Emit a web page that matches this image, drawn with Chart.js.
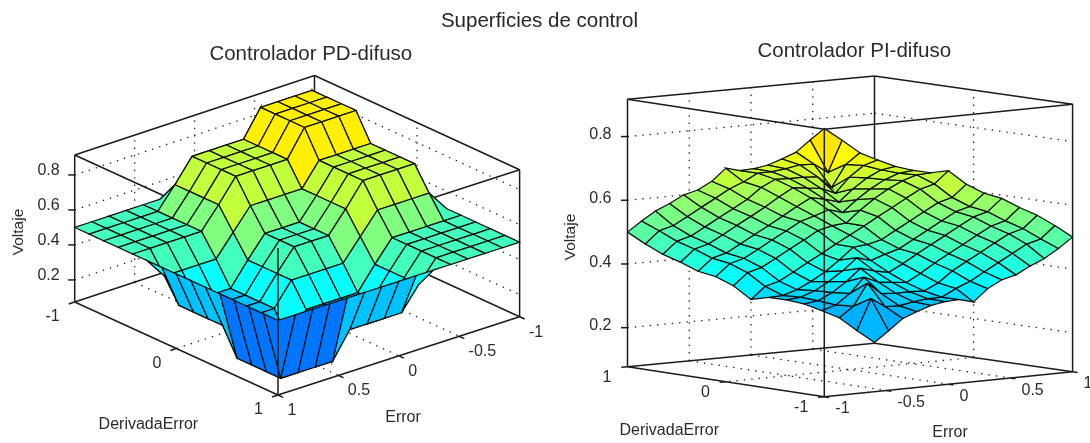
<!DOCTYPE html>
<html>
<head>
<meta charset="utf-8">
<title>Superficies de control</title>
<script src="https://cdn.jsdelivr.net/npm/chart.js@4"></script>
<style>
  html, body { margin: 0; padding: 0; background: #fff; }
  #page { position: relative; width: 1090px; height: 443px; overflow: hidden; }
  canvas { position: absolute; top: 0; filter: blur(0.35px); }
  #left-chart { left: 0; }
  #right-chart { left: 545px; }
  #main-title {
    position: absolute; left: 0; width: 1079px; top: 8px; z-index: 2;
    text-align: center; font: 20.5px "Liberation Sans", Arial, sans-serif; color: #26262e;
  }
</style>
</head>
<body>
<div id="page">
  <canvas id="left-chart" width="545" height="443"></canvas>
  <canvas id="right-chart" width="545" height="443"></canvas>
  <div id="main-title">Superficies de control</div>
</div>
<script>
// Axis ticks
const errorTicks = [-1, -0.5, 0, 0.5, 1];
const derivadaTicks = [-1, 0, 1];
const voltajeTicks = [0.2, 0.4, 0.6, 0.8];

// Surfaces: one row per DerivadaError step (-1 to 1), one column per Error step (-1 to 1)
const pdSurface = [
  [.5, .5, .5, .5, .5, .5, .5, .5, .5, .5, .5, .5, .5, .5, .5],
  [.5, .9, .9, .9, .9, .75, .75, .75, .75, .62, .5, .5, .5, .5, .5],
  [.5, .9, .9, .9, .9, .75, .75, .75, .75, .62, .5, .5, .5, .5, .5],
  [.5, .9, .9, .9, .9, .75, .75, .75, .75, .62, .5, .5, .5, .5, .5],
  [.5, .9, .9, .9, .9, .75, .75, .75, .75, .62, .5, .5, .5, .5, .5],
  [.5, .75, .75, .75, .75, .62, .62, .62, .62, .5, .38, .38, .38, .38, .5],
  [.5, .75, .75, .75, .75, .62, .5, .5, .5, .38, .25, .25, .25, .25, .5],
  [.5, .75, .75, .75, .75, .62, .5, .5, .5, .38, .25, .25, .25, .25, .5],
  [.5, .75, .75, .75, .75, .62, .5, .5, .5, .38, .25, .25, .25, .25, .5],
  [.5, .62, .62, .62, .62, .5, .38, .38, .38, .38, .25, .25, .25, .25, .5],
  [.5, .5, .5, .5, .5, .38, .25, .25, .25, .25, .1, .1, .1, .1, .5],
  [.5, .5, .5, .5, .5, .38, .25, .25, .25, .25, .1, .1, .1, .1, .5],
  [.5, .5, .5, .5, .5, .38, .25, .25, .25, .25, .1, .1, .1, .1, .5],
  [.5, .5, .5, .5, .5, .38, .25, .25, .25, .25, .1, .1, .1, .1, .5],
  [.5, .5, .5, .5, .5, .5, .5, .5, .5, .5, .5, .5, .5, .5, .5]
];

const piSurface = [
  [.92, .877, .832, .804, .778, .76, .747, .748, .70, .666, .644, .61, .58, .542, .50],
  [.877, .77, .789, .78, .761, .745, .734, .70, .652, .618, .596, .562, .532, .494, .458],
  [.832, .789, .71, .737, .729, .718, .709, .677, .629, .595, .573, .539, .509, .471, .42],
  [.804, .78, .737, .68, .688, .683, .677, .642, .594, .56, .538, .504, .474, .436, .39],
  [.778, .761, .729, .688, .64, .642, .64, .606, .558, .524, .502, .468, .438, .40, .356],
  [.76, .745, .718, .683, .642, .595, .597, .571, .523, .489, .467, .433, .403, .365, .334],
  [.747, .734, .709, .677, .64, .597, .55, .535, .487, .453, .431, .397, .367, .329, .30],
  [.748, .70, .677, .642, .606, .571, .535, .50, .465, .429, .394, .358, .323, .30, .252],
  [.70, .671, .633, .603, .569, .547, .513, .465, .45, .403, .36, .323, .291, .266, .253],
  [.666, .635, .597, .567, .533, .511, .477, .429, .403, .405, .358, .317, .282, .255, .24],
  [.644, .60, .562, .532, .498, .476, .442, .394, .36, .358, .36, .312, .271, .239, .222],
  [.61, .564, .526, .496, .462, .44, .406, .358, .323, .317, .312, .32, .263, .22, .196],
  [.58, .529, .491, .461, .427, .405, .371, .323, .291, .282, .271, .263, .29, .211, .168],
  [.542, .506, .468, .438, .404, .382, .348, .30, .266, .255, .239, .22, .211, .23, .123],
  [.50, .458, .42, .39, .356, .334, .30, .252, .253, .24, .222, .196, .168, .123, .08]
];

// Camera of each panel: where the floor corners land, the z range and which corner is nearest
const pdView = {
  canvas: 'left-chart', title: 'Controlador PD-difuso', surface: pdSurface,
  xRange: [0, 545],
  corners: { mm: [314.5, 222.5], pm: [74.7, 302], mp: [519.6, 316.7], pp: [278, 395] },
  zMin: 0.074, zMax: 0.914, zScale: 175,
  near: [1, 1], // Error, DerivadaError of the corner facing the viewer
  backE: -1, backD: -1,
  titlePos: [310.8, 54],
  voltajeLabel: [19, 232],
  derivadaLabel: [148.4, 425],
  errorLabel: [403, 418],
  zLabelOffset: [-15, -4],
  errorLabelOffset: [9.4, 15.5],
  derivadaLabelOffset: [-15, 15],
  zAxisCorner: [1, -1],
  errorAxisD: 1,
  derivadaAxisE: 1
};

const piView = {
  canvas: 'right-chart', title: 'Controlador PI-difuso', surface: piSurface,
  xRange: [545, 1090],
  corners: { mm: [824.3, 396.7], pm: [1072.6, 371.7], mp: [627.5, 366.7], pp: [874.5, 343.3] },
  zMin: 0.0775, zMax: 0.917, zScale: 318.5,
  near: [-1, -1],
  backE: 1, backD: 1,
  titlePos: [854.3, 51.7],
  voltajeLabel: [570.4, 237],
  derivadaLabel: [669.3, 430.7],
  errorLabel: [950, 432.3],
  zLabelOffset: [-16, -1.7],
  errorLabelOffset: [11, 12.3],
  derivadaLabelOffset: [-16, 11.2],
  zAxisCorner: [-1, 1],
  errorAxisD: -1,
  derivadaAxisE: -1
};

const FONT = '"Liberation Sans", Arial, sans-serif';
const TEXT_COLOR = '#2b2b2b';
const TICK_SIZE = 0.05;
const Z_TICK_PIXELS = 6.5;

// Floor position by bilinear blend of the corners, then lift by z
function project(view, e, d, z) {
  const u = (e + 1) / 2, v = (d + 1) / 2;
  const c = view.corners;
  const blend = k => (1 - u) * (1 - v) * c.mm[k] + u * (1 - v) * c.pm[k] + (1 - u) * v * c.mp[k] + u * v * c.pp[k];
  return { x: blend(0), y: blend(1) - (z - view.zMin) * view.zScale };
}

// MATLAB jet, shifted to the colour limits used by the figure
function surfaceColor(z) {
  const t = 0.19 + 0.5 * z;
  const channel = c => Math.round(255 * Math.max(0, Math.min(1, 1.5 - Math.abs(4 * t - c))));
  return `rgb(${channel(3)},${channel(2)},${channel(1)})`;
}

function lineSet(data, color, width, dash) {
  return {
    data, showLine: true, fill: false, pointRadius: 0, pointHoverRadius: 0,
    borderColor: color, borderWidth: width, borderDash: dash || [], clip: false
  };
}

function surfaceSets(view) {
  const rows = view.surface;
  const last = rows.length - 1;
  const faces = [];
  for (let b = 0; b < last; b++) {
    for (let a = 0; a < last; a++) {
      const point = (p, q) => project(view, -1 + 2 * p / last, -1 + 2 * q / last, rows[q][p]);
      faces.push({
        depth: view.near[0] * a + view.near[1] * b,
        set: {
          data: [point(a, b), point(a + 1, b), point(a + 1, b + 1), point(a, b + 1), point(a, b)],
          showLine: true, fill: 'shape', pointRadius: 0, pointHoverRadius: 0, clip: false,
          backgroundColor: surfaceColor(rows[b][a]), borderColor: '#111', borderWidth: 1.25
        }
      });
    }
  }
  // Chart.js paints the first dataset last, so the nearest face goes first
  faces.sort((p, q) => q.depth - p.depth);
  return faces.map(f => f.set);
}

function boxSets(view) {
  const { zMin, zMax, backE, backD } = view;
  const sets = [];
  const edge = (p, q) => sets.push(lineSet([p, q], '#1c1c1c', 1.5));
  const cornerList = [[-1, -1], [1, -1], [1, 1], [-1, 1]];
  cornerList.forEach(([e, d], i) => {
    const [e2, d2] = cornerList[(i + 1) % 4];
    edge(project(view, e, d, zMin), project(view, e2, d2, zMin));
    edge(project(view, e, d, zMax), project(view, e2, d2, zMax));
    if (!(e === view.near[0] && d === view.near[1])) {
      edge(project(view, e, d, zMin), project(view, e, d, zMax));
    }
  });

  // Dotted grid on the two back walls and the floor
  const dotted = (p, q) => sets.push(lineSet([p, q], '#222', 1.3, [1.4, 6]));
  voltajeTicks.forEach(z => {
    dotted(project(view, -backE, backD, z), project(view, backE, backD, z));
    dotted(project(view, backE, backD, z), project(view, backE, -backD, z));
  });
  errorTicks.slice(1, -1).forEach(e => {
    dotted(project(view, e, backD, zMin), project(view, e, backD, zMax));
    dotted(project(view, e, backD, zMin), project(view, e, -backD, zMin));
  });
  derivadaTicks.slice(1, -1).forEach(d => {
    dotted(project(view, backE, d, zMin), project(view, backE, d, zMax));
    dotted(project(view, backE, d, zMin), project(view, -backE, d, zMin));
  });

  // Tick marks
  const dirE = view.errorAxisD, dirD = view.derivadaAxisE;
  errorTicks.forEach(e => {
    edge(project(view, e, dirE, zMin), project(view, e, dirE * (1 + TICK_SIZE), zMin));
  });
  derivadaTicks.forEach(d => {
    edge(project(view, dirD, d, zMin), project(view, dirD * (1 + TICK_SIZE), d, zMin));
  });
  const [ze, zd] = view.zAxisCorner;
  voltajeTicks.forEach(z => {
    const p = project(view, ze, zd, z);
    edge(p, { x: p.x - Z_TICK_PIXELS, y: p.y });
  });
  return sets;
}

// Tick labels, axis labels and the panel title
const labelPlugin = {
  id: 'panelText',
  afterDraw(chart, args, opts) {
    const view = opts.view;
    const { ctx, scales } = chart;
    const put = (text, x, y, size, align, angle) => {
      ctx.save();
      ctx.translate(scales.x.getPixelForValue(x), scales.y.getPixelForValue(y));
      if (angle) ctx.rotate(angle);
      ctx.font = `${size}px ${FONT}`;
      ctx.fillStyle = TEXT_COLOR;
      ctx.textAlign = align;
      ctx.textBaseline = 'middle';
      ctx.fillText(text, 0, 0);
      ctx.restore();
    };
    voltajeTicks.forEach(z => {
      const p = project(view, view.zAxisCorner[0], view.zAxisCorner[1], z);
      put(String(z), p.x + view.zLabelOffset[0], p.y + view.zLabelOffset[1], 16, 'right');
    });
    errorTicks.forEach(e => {
      const p = project(view, e, view.errorAxisD, view.zMin);
      put(String(e), p.x + view.errorLabelOffset[0], p.y + view.errorLabelOffset[1], 16, 'left');
    });
    derivadaTicks.forEach(d => {
      const p = project(view, view.derivadaAxisE, d, view.zMin);
      put(String(d), p.x + view.derivadaLabelOffset[0], p.y + view.derivadaLabelOffset[1], 16, 'right');
    });
    put(view.title, view.titlePos[0], view.titlePos[1], 20.5, 'center');
    put('Voltaje', view.voltajeLabel[0], view.voltajeLabel[1], 15.5, 'center', -Math.PI / 2);
    put('DerivadaError', view.derivadaLabel[0], view.derivadaLabel[1], 16, 'center');
    put('Error', view.errorLabel[0], view.errorLabel[1], 16, 'center');
  }
};

function drawPanel(view) {
  const [ne, nd] = view.near;
  const frontEdge = lineSet(
    [project(view, ne, nd, view.zMin), project(view, ne, nd, view.zMax)], '#1c1c1c', 1.5
  );
  new Chart(document.getElementById(view.canvas), {
    type: 'scatter',
    data: { datasets: [frontEdge, ...surfaceSets(view), ...boxSets(view)] },
    plugins: [labelPlugin],
    options: {
      responsive: false,
      animation: false,
      events: [],
      layout: { padding: 0 },
      plugins: {
        legend: { display: false },
        tooltip: { enabled: false },
        panelText: { view }
      },
      scales: {
        x: { type: 'linear', display: false, min: view.xRange[0], max: view.xRange[1] },
        y: { type: 'linear', display: false, min: 0, max: 443, reverse: true }
      }
    }
  });
}

drawPanel(pdView);
drawPanel(piView);
</script>
</body>
</html>
